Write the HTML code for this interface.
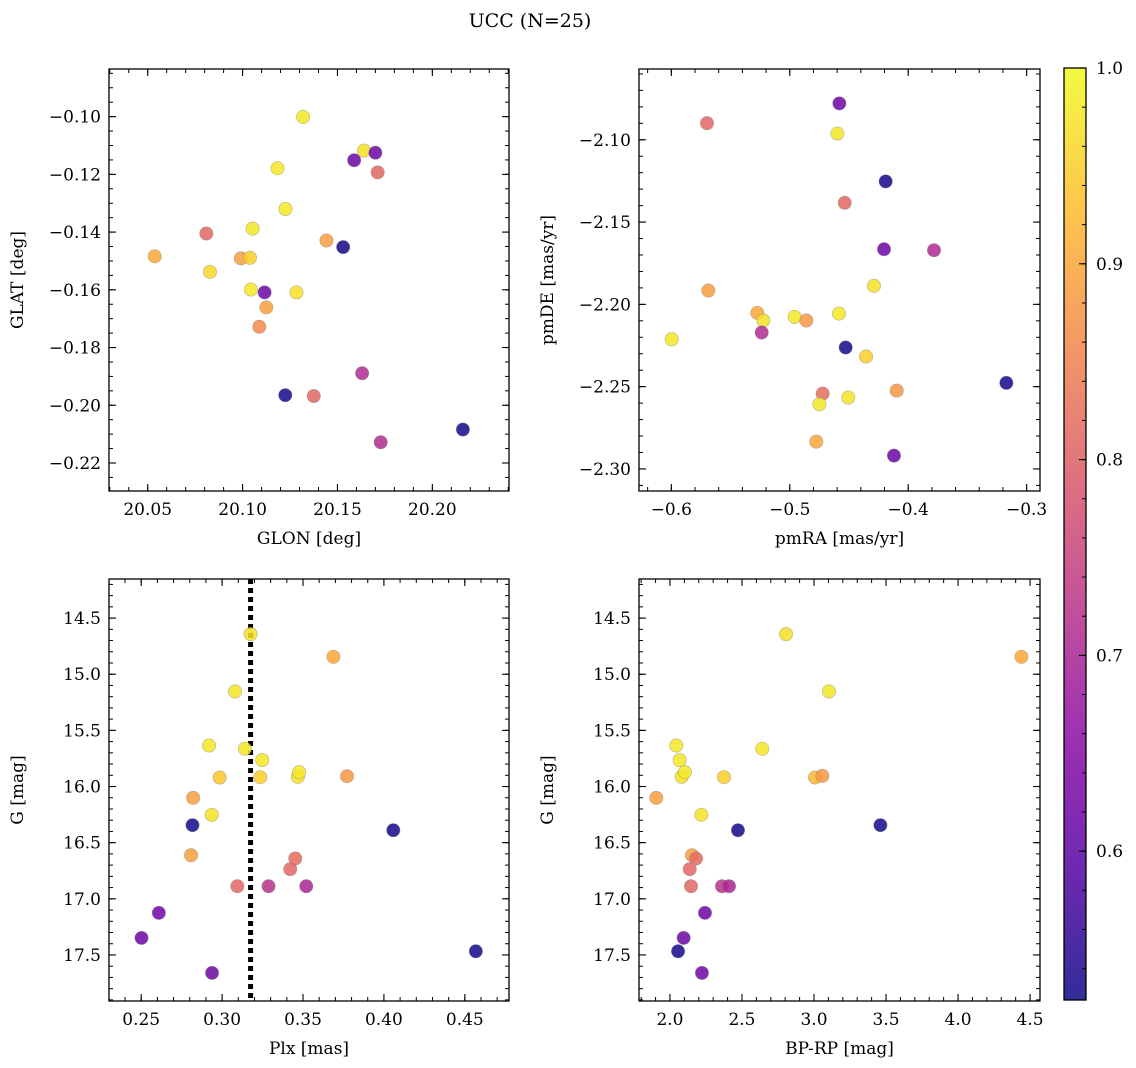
<!DOCTYPE html>
<html><head><meta charset="utf-8">
<style>
html,body{margin:0;padding:0;background:#fff;}
svg{display:block;font-family:"DejaVu Serif","Liberation Serif",serif;}
</style></head>
<body>
<svg id="fig" width="1136" height="1068" xmlns="http://www.w3.org/2000/svg">
<text x="530" y="27" font-size="19" text-anchor="middle">UCC (N=25)</text>
</svg>
<script>
// Panel 1: GLON vs GLAT
const glon1 = [20.1319,20.164,20.170,20.1588,20.1712,20.1184,20.1226,20.1053,20.0809,20.1442,20.153,20.0537,20.0991,20.1039,20.0828,20.1044,20.1284,20.1116,20.1125,20.1088,20.163,20.1225,20.1375,20.2161,20.1728];
const glat1 = [-0.1001,-0.1118,-0.1125,-0.1151,-0.1193,-0.1179,-0.132,-0.1388,-0.1405,-0.1429,-0.1452,-0.1484,-0.1491,-0.1489,-0.1538,-0.1599,-0.1609,-0.1609,-0.1661,-0.1728,-0.1889,-0.1965,-0.1968,-0.2084,-0.2128];
const prob1 = [0.98,0.97,0.62,0.62,0.81,0.98,0.98,0.98,0.81,0.89,0.53,0.90,0.89,0.95,0.96,0.98,0.97,0.62,0.89,0.86,0.71,0.53,0.81,0.53,0.71];
// Panel 2: pmRA vs pmDE
const pmra2 = [-0.4581,-0.5699,-0.4598,-0.419,-0.4536,-0.4204,-0.3782,-0.4289,-0.5688,-0.5274,-0.5223,-0.4959,-0.486,-0.4584,-0.5997,-0.5237,-0.4528,-0.4356,-0.3171,-0.4097,-0.4722,-0.475,-0.4506,-0.4776,-0.412];
const pmde2 = [-2.0779,-2.0899,-2.0962,-2.1253,-2.1383,-2.1665,-2.1671,-2.1888,-2.1916,-2.2052,-2.2098,-2.2076,-2.2098,-2.2056,-2.2212,-2.2171,-2.2262,-2.2317,-2.2477,-2.2524,-2.2542,-2.2607,-2.2566,-2.2834,-2.2919];
const prob2 = [0.62,0.81,0.98,0.53,0.81,0.62,0.71,0.97,0.89,0.90,0.97,0.98,0.88,0.98,0.98,0.71,0.53,0.95,0.53,0.88,0.82,0.98,0.97,0.90,0.62];
// Panel 3: Plx vs G
const plx3 = [0.3176,0.3688,0.308,0.2919,0.3141,0.3248,0.2985,0.3236,0.3468,0.3476,0.3772,0.2821,0.2936,0.2817,0.4058,0.2808,0.3452,0.3421,0.3094,0.3287,0.352,0.2609,0.2502,0.2938,0.4568];
const g3 = [14.643,14.845,15.153,15.635,15.664,15.765,15.92,15.917,15.914,15.872,15.908,16.101,16.252,16.344,16.389,16.612,16.641,16.736,16.888,16.888,16.888,17.125,17.348,17.66,17.467];
const prob3 = [0.97,0.90,0.98,0.98,0.98,0.98,0.94,0.95,0.97,0.98,0.88,0.89,0.97,0.53,0.53,0.89,0.82,0.81,0.81,0.72,0.70,0.62,0.62,0.62,0.53];
// Panel 4: BP-RP vs G
const bprp4 = [2.806,4.44,3.104,2.044,2.641,2.067,2.081,2.104,2.375,3.007,3.058,1.905,2.218,2.472,3.461,2.153,2.181,2.137,2.146,2.361,2.41,2.243,2.095,2.056,2.222];
const g4 = [14.643,14.845,15.153,15.635,15.664,15.765,15.914,15.872,15.917,15.92,15.905,16.101,16.252,16.389,16.344,16.612,16.641,16.736,16.888,16.888,16.888,17.125,17.348,17.467,17.66];
const prob4 = [0.97,0.90,0.98,0.98,0.98,0.98,0.97,0.98,0.95,0.92,0.88,0.89,0.97,0.53,0.53,0.89,0.82,0.81,0.81,0.72,0.70,0.62,0.62,0.53,0.62];
const plxLine = [0.3176];
const cbTicks = [0.6,0.7,0.8,0.9,1.0];

const NS = "http://www.w3.org/2000/svg";
const svg = document.getElementById('fig');
const VMIN = 0.524, VMAX = 1.0;
function cmap(v){
  let t=(v-VMIN)/(VMAX-VMIN); t=Math.max(0,Math.min(1,t));
  const st=[[0,[13,8,135]],[0.14,[84,2,163]],[0.28,[139,10,165]],[0.42,[185,50,137]],[0.57,[219,92,104]],[0.71,[244,136,73]],[0.85,[254,188,43]],[1,[240,249,33]]];
  for(let i=0;i<st.length-1;i++){
    if(t<=st[i+1][0]){const a=st[i],b=st[i+1];const f=(t-a[0])/(b[0]-a[0]);
      const c=a[1].map((x,k)=>Math.round(x+(b[1][k]-x)*f));
      return `rgb(${c[0]},${c[1]},${c[2]})`;}
  }
  return 'rgb(240,249,33)';
}
function el(tag,attrs,parent){const e=document.createElementNS(NS,tag);for(const k in attrs)e.setAttribute(k,attrs[k]);(parent||svg).appendChild(e);return e;}
function fmt(v,d){const s=Math.abs(v).toFixed(d);return (v<-1e-9?'\u2212':'')+s;}

function panel(o){
  const g=el('g',{});
  
  
  const X=v=>o.x0+(v-o.xmin)/(o.xmax-o.xmin)*(o.x1-o.x0);
  const Y=o.yinv? v=>o.y0+(v-o.ymin)/(o.ymax-o.ymin)*(o.y1-o.y0) : v=>o.y1-(v-o.ymin)/(o.ymax-o.ymin)*(o.y1-o.y0);
  const eps=1e-9;
  for(let v=Math.ceil(o.xmin/o.xminor-eps)*o.xminor; v<=o.xmax+eps; v+=o.xminor){
    const px=X(v); if(px<o.x0+0.5||px>o.x1-0.5) continue;
    el('line',{x1:px,x2:px,y1:o.y1,y2:o.y1-4,stroke:'#000','stroke-width':1},g);
    el('line',{x1:px,x2:px,y1:o.y0,y2:o.y0+4,stroke:'#000','stroke-width':1},g);
  }
  const ylo=Math.min(o.ymin,o.ymax), yhi=Math.max(o.ymin,o.ymax);
  for(let v=Math.ceil(ylo/o.yminor-eps)*o.yminor; v<=yhi+eps; v+=o.yminor){
    const py=Y(v); if(py<o.y0+0.5||py>o.y1-0.5) continue;
    el('line',{x1:o.x0,x2:o.x0+4,y1:py,y2:py,stroke:'#000','stroke-width':1},g);
    el('line',{x1:o.x1,x2:o.x1-4,y1:py,y2:py,stroke:'#000','stroke-width':1},g);
  }
  o.xticks.forEach(v=>{
    const px=X(v);
    el('line',{x1:px,x2:px,y1:o.y1,y2:o.y1-7,stroke:'#000','stroke-width':1.1},g);
    el('line',{x1:px,x2:px,y1:o.y0,y2:o.y0+7,stroke:'#000','stroke-width':1.1},g);
    const t=el('text',{x:px,y:o.y1+24,'font-size':17,'text-anchor':'middle'},g);
    t.textContent=fmt(v,o.xdec);
    
    
  });
  o.yticks.forEach(v=>{
    const py=Y(v);
    el('line',{x1:o.x0,x2:o.x0+7,y1:py,y2:py,stroke:'#000','stroke-width':1.1},g);
    el('line',{x1:o.x1,x2:o.x1-7,y1:py,y2:py,stroke:'#000','stroke-width':1.1},g);
    const t=el('text',{x:o.x0-8,y:py+6,'font-size':17,'text-anchor':'end'},g);
    t.textContent=fmt(v,o.ydec);
    
    
  });
  if(o.vline){
    const px=X(o.vline[0]);
    const ln=el('line',{x1:px,x2:px,y1:o.y0,y2:o.y1,stroke:'#000','stroke-width':5,'stroke-dasharray':'5 4'},g);
    
    
  }
  for(let i=0;i<o.xs.length;i++){
    const c=el('circle',{cx:X(o.xs[i]),cy:Y(o.ys[i]),r:6.7,fill:cmap(o.cs[i]),'fill-opacity':0.85,stroke:'#888','stroke-opacity':0.6,'stroke-width':0.6},g);
    
    
  }
  const fr=el('rect',{x:o.x0,y:o.y0,width:o.x1-o.x0,height:o.y1-o.y0,fill:'none',stroke:'#000','stroke-width':1.3},g);
  
  
  const xl=el('text',{x:(o.x0+o.x1)/2,y:o.y1+53,'font-size':17,'text-anchor':'middle'},g);
  xl.textContent=o.xlabel;
  
  
  const yc=(o.y0+o.y1)/2, yx=o.x0-86;
  const yl=el('text',{x:yx,y:yc,'font-size':17,'text-anchor':'middle',transform:`rotate(-90 ${yx} ${yc})`},g);
  yl.textContent=o.ylabel;
  
  
}

panel({name:'glon-glat-panel',x0:109,x1:509,y0:69,y1:491,xmin:20.0296,xmax:20.2404,ymin:-0.2297,ymax:-0.0835,
  xticks:[20.05,20.10,20.15,20.20],xdec:2,xminor:0.01,yticks:[-0.10,-0.12,-0.14,-0.16,-0.18,-0.20,-0.22],ydec:2,yminor:0.005,
  xs:glon1,ys:glat1,cs:prob1,xlabel:'GLON [deg]',ylabel:'GLAT [deg]'});
panel({name:'pm-panel',x0:639,x1:1040,y0:69,y1:491,xmin:-0.6273,xmax:-0.2887,ymin:-2.3134,ymax:-2.057,
  xticks:[-0.6,-0.5,-0.4,-0.3],xdec:1,xminor:0.02,yticks:[-2.10,-2.15,-2.20,-2.25,-2.30],ydec:2,yminor:0.01,
  xs:pmra2,ys:pmde2,cs:prob2,xlabel:'pmRA [mas/yr]',ylabel:'pmDE [mas/yr]'});
panel({name:'plx-g-panel',x0:109,x1:509,y0:579,y1:1001,xmin:0.2301,xmax:0.4773,ymin:14.152,ymax:17.91,yinv:true,
  xticks:[0.25,0.30,0.35,0.40,0.45],xdec:2,xminor:0.01,yticks:[14.5,15.0,15.5,16.0,16.5,17.0,17.5],ydec:1,yminor:0.1,
  xs:plx3,ys:g3,cs:prob3,vline:plxLine,xlabel:'Plx [mas]',ylabel:'G [mag]'});
panel({name:'cmd-panel',x0:639,x1:1040,y0:579,y1:1001,xmin:1.785,xmax:4.569,ymin:14.152,ymax:17.91,yinv:true,
  xticks:[2.0,2.5,3.0,3.5,4.0,4.5],xdec:1,xminor:0.1,yticks:[14.5,15.0,15.5,16.0,16.5,17.0,17.5],ydec:1,yminor:0.1,
  xs:bprp4,ys:g4,cs:prob4,xlabel:'BP-RP [mag]',ylabel:'G [mag]'});

// colorbar
const cb=el('g',{});


const defs=el('defs',{},cb);
const lg=el('linearGradient',{id:'cbg',x1:0,y1:1,x2:0,y2:0},defs);
for(let i=0;i<=20;i++){const v=VMIN+(VMAX-VMIN)*i/20;el('stop',{offset:i/20,'stop-color':cmap(v),'stop-opacity':0.85},lg);}
const CX0=1064,CX1=1086,CY0=68,CY1=1000;
const CY=v=>CY1-(v-VMIN)/(VMAX-VMIN)*(CY1-CY0);
el('rect',{x:CX0,y:CY0,width:CX1-CX0,height:CY1-CY0,fill:'url(#cbg)'},cb);
for(let v=0.54;v<=1.0001;v+=0.02){const py=CY(v);el('line',{x1:CX1,x2:CX1-4,y1:py,y2:py,stroke:'#000','stroke-width':1},cb);}
cbTicks.forEach(v=>{const py=CY(v);el('line',{x1:CX1,x2:CX1-7,y1:py,y2:py,stroke:'#000','stroke-width':1.1},cb);
  const t=el('text',{x:CX1+10,y:py+6,'font-size':17},cb);t.textContent=v.toFixed(1);
  
  });
el('rect',{x:CX0,y:CY0,width:CX1-CX0,height:CY1-CY0,fill:'none',stroke:'#000','stroke-width':1.3},cb);
</script>
</body></html>
